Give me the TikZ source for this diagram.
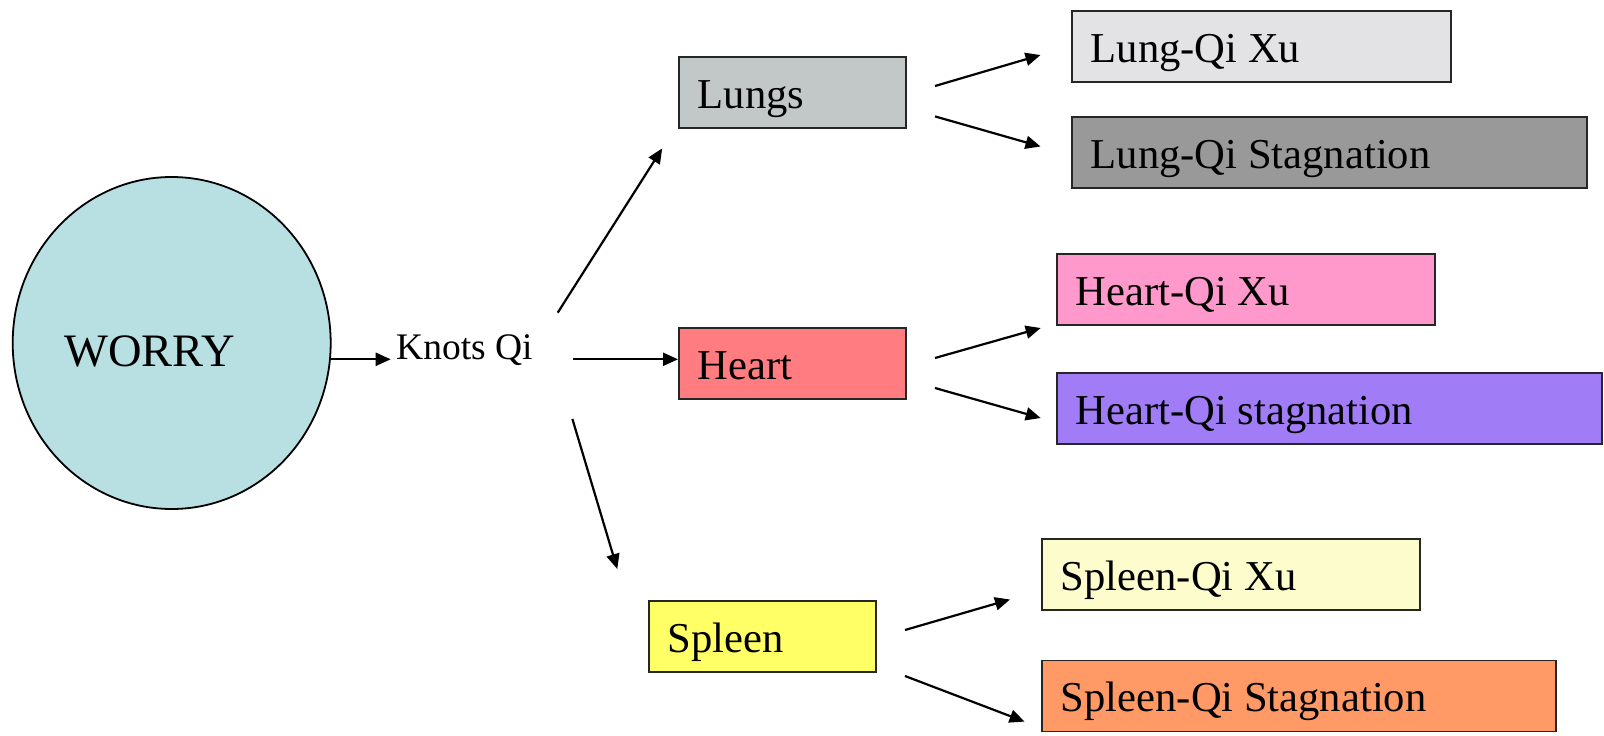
\documentclass[tikz,border=0pt]{standalone}
\usepackage{fontspec}
\setmainfont{Liberation Serif}
\usetikzlibrary{arrows.meta,shapes.geometric}
\definecolor{worrycol}{RGB}{184,224,227}
\definecolor{lungscol}{RGB}{194,200,200}
\definecolor{lxucol}{RGB}{227,227,229}
\definecolor{lstagcol}{RGB}{153,153,153}
\definecolor{heartcol}{RGB}{255,124,128}
\definecolor{hxucol}{RGB}{255,153,204}
\definecolor{hstagcol}{RGB}{160,124,246}
\definecolor{spleencol}{RGB}{255,255,102}
\definecolor{sxucol}{RGB}{252,252,204}
\definecolor{sstagcol}{RGB}{255,153,102}
\tikzset{
  box/.style={draw=black!85, line width=1.7pt, anchor=north west,
    font=\fontsize{42.6}{50}\selectfont, inner xsep=19pt, inner ysep=0pt,
    text height=32pt, text depth=0pt, align=flush left, minimum height=71pt},
  arr/.style={line width=2.2pt, -{Triangle[length=15pt,width=13pt]}},
}
\begin{document}
\begin{tikzpicture}[x=1pt,y=-1pt]
\useasboundingbox (0,0) rectangle (1604,736);
% WORRY circle
\node[ellipse, draw, line width=1.8pt, fill=worrycol, minimum width=318pt, minimum height=332pt, inner sep=0pt] (worry) at (171.7,343) {};
\node[anchor=base west, inner sep=0pt, font=\fontsize{46.5}{52}\selectfont] (worryT) at (64,366) {WORRY};
\node[anchor=base west, inner sep=0pt, font=\fontsize{37.5}{44}\selectfont] (knots) at (396,359.3) {Knots Qi};
% organ boxes
\node[box, fill=lungscol, text width=189pt] (lungs) at (678,56) {Lungs};
\node[box, fill=heartcol, text width=189pt] (heart) at (678,327) {Heart};
\node[box, fill=spleencol, text width=189pt] (spleen) at (648,600) {Spleen};
% pattern boxes
\node[box, fill=lxucol, text width=341pt] (lxu) at (1071,10) {Lung-Qi Xu};
\node[box, fill=lstagcol, text width=477pt] (lstag) at (1071,116) {Lung-Qi Stagnation};
\node[box, fill=hxucol, text width=340pt] (hxu) at (1056,253) {Heart-Qi Xu};
\node[box, fill=hstagcol, text width=507pt] (hstag) at (1056,372) {Heart-Qi stagnation};
\node[box, fill=sxucol, text width=340pt] (sxu) at (1041,538) {Spleen-Qi Xu};
\node[box, fill=sstagcol, text width=476pt] (sstag) at (1041,659.5) {Spleen-Qi Stagnation};
% connector end points
\coordinate (w0) at (330,359.3);
\coordinate (k0) at (390.7,359.3);
\coordinate (kl0) at (557.7,312.7);
\coordinate (kl1) at (662.2,148.4);
\coordinate (kh0) at (572.7,359.3);
\coordinate (kh1) at (678,359.3);
\coordinate (ks0) at (572.4,419);
\coordinate (ks1) at (617.3,569);
\coordinate (l0a) at (935,86);
\coordinate (l1a) at (1040.5,55);
\coordinate (l0b) at (935,116.4);
\coordinate (l1b) at (1040.5,146.5);
\coordinate (h0a) at (935,358);
\coordinate (h1a) at (1040.7,328);
\coordinate (h0b) at (935,388);
\coordinate (h1b) at (1040.7,418);
\coordinate (s0a) at (905,630);
\coordinate (s1a) at (1010,599.5);
\coordinate (s0b) at (905,676);
\coordinate (s1b) at (1024.6,721.6);
% connectors
\draw[arr] (w0) -- (k0);
\draw[arr] (kl0) -- (kl1);
\draw[arr] (kh0) -- (kh1);
\draw[arr] (ks0) -- (ks1);
\draw[arr] (l0a) -- (l1a);
\draw[arr] (l0b) -- (l1b);
\draw[arr] (h0a) -- (h1a);
\draw[arr] (h0b) -- (h1b);
\draw[arr] (s0a) -- (s1a);
\draw[arr] (s0b) -- (s1b);
\end{tikzpicture}
\end{document}
